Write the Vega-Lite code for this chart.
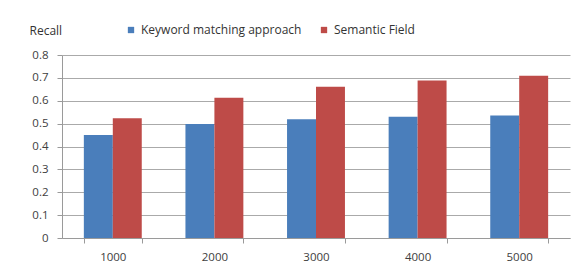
{
  "$schema": "https://vega.github.io/schema/vega-lite/v6.json",
  "width": 508,
  "height": 183,
  "autosize": {"type": "none"},
  "padding": {"left": 62, "top": 55, "right": 17, "bottom": 35},
  "background": "white",
  "config": {
    "view": {"stroke": null},
    "font": "Open Sans",
    "axis": {"labelFont": "Open Sans", "titleFont": "Open Sans", "labelColor": "#404040", "titleColor": "#333333"},
    "legend": {"labelFont": "Open Sans"}
  },
  "data": {
    "values": [
      {"docs": "1000", "method": "Keyword matching approach", "recall": 0.45},
      {"docs": "1000", "method": "Semantic Field", "recall": 0.523},
      {"docs": "2000", "method": "Keyword matching approach", "recall": 0.498},
      {"docs": "2000", "method": "Semantic Field", "recall": 0.613},
      {"docs": "3000", "method": "Keyword matching approach", "recall": 0.519},
      {"docs": "3000", "method": "Semantic Field", "recall": 0.661},
      {"docs": "4000", "method": "Keyword matching approach", "recall": 0.53},
      {"docs": "4000", "method": "Semantic Field", "recall": 0.688},
      {"docs": "5000", "method": "Keyword matching approach", "recall": 0.535},
      {"docs": "5000", "method": "Semantic Field", "recall": 0.709}
    ]
  },
  "mark": {"type": "bar"},
  "encoding": {
    "x": {
      "field": "docs", "type": "nominal",
      "scale": {"paddingInner": 0.43, "paddingOuter": 0.215},
      "axis": {
        "title": null, "labelAngle": 0, "labelFontSize": 11.5, "labelPadding": 8,
        "tickBand": "extent", "tickSize": 5, "tickColor": "#9a9a9a", "domainColor": "#9a9a9a", "grid": false
      }
    },
    "xOffset": {"field": "method", "type": "nominal", "scale": {"paddingInner": 0, "paddingOuter": 0}},
    "y": {
      "field": "recall", "type": "quantitative",
      "scale": {"domain": [0, 0.8], "nice": false},
      "axis": {
        "title": "Recall", "titleAngle": 0, "titleAlign": "left", "titleBaseline": "alphabetic",
        "titleX": -33, "titleY": -21, "titleFontSize": 12, "titleFontWeight": "normal",
        "values": [0, 0.1, 0.2, 0.3, 0.4, 0.5, 0.6, 0.7, 0.8],
        "format": "~g", "labelFontSize": 11.5, "labelPadding": 9,
        "tickSize": 5, "tickColor": "#9a9a9a", "domainColor": "#9a9a9a",
        "grid": true, "gridColor": "#aaaaaa", "gridWidth": 1
      }
    },
    "color": {
      "field": "method", "type": "nominal",
      "scale": {"domain": ["Keyword matching approach", "Semantic Field"], "range": ["#4a7ebb", "#be4b48"]},
      "legend": {
        "title": null, "orient": "none", "direction": "horizontal",
        "legendX": 63, "legendY": -31,
        "symbolType": "square", "symbolSize": 40, "symbolStrokeWidth": 0,
        "labelFontSize": 12, "labelColor": "#333333", "labelOffset": 4, "labelLimit": 300, "columnPadding": 16
      }
    }
  }
}
